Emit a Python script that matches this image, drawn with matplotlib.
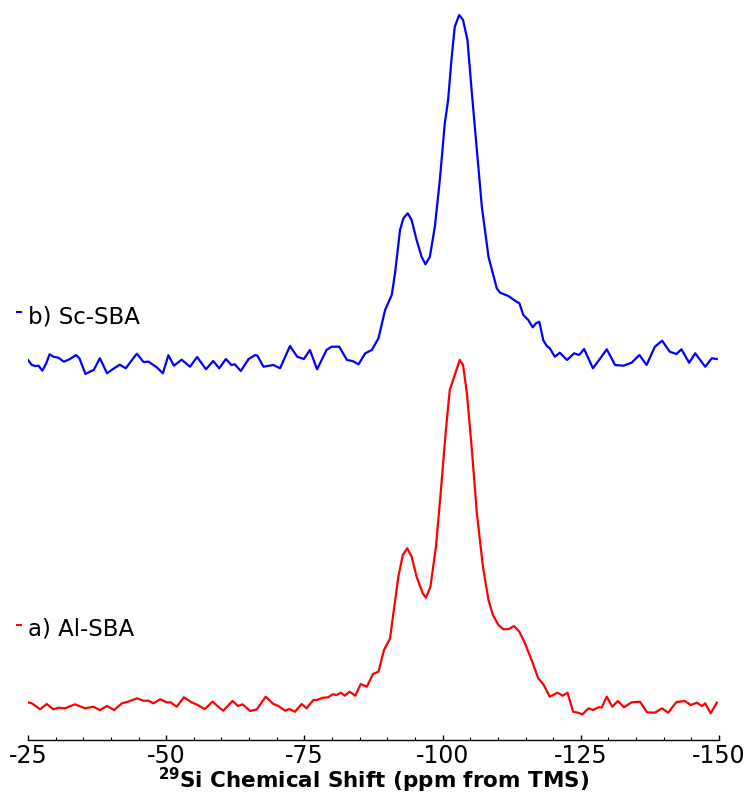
# nmr_29si.py
# 29Si MAS NMR spectra of Al-SBA and Sc-SBA, stacked

import matplotlib
matplotlib.use("Agg")
import matplotlib.pyplot as plt
from matplotlib.lines import Line2D
from matplotlib.ticker import MultipleLocator

plt.rcParams["axes.unicode_minus"] = False

# Sc-SBA (b), chemical shift in ppm and intensity (arb. units)
sc_ppm = [-24.9, -25.7, -26.3, -26.9, -27.6, -28.3, -28.9, -29.6, -30.5, -31.5,
          -32.6, -33.7, -34.3, -35.4, -36.2, -36.9, -38.0, -38.6, -39.3, -40.3,
          -41.6, -42.7, -43.8, -44.7, -45.9, -46.8, -48.3, -49.4, -50.4, -51.4,
          -52.8, -54.3, -55.6, -57.2, -58.5, -59.6, -60.8, -61.8, -62.4, -63.5,
          -64.9, -66.1, -66.5, -67.6, -69.4, -70.6, -72.4, -73.7, -74.9, -76.0,
          -77.3, -79.0, -79.9, -81.3, -82.7, -83.7, -84.8, -86.0, -87.2, -88.4,
          -89.6, -90.8, -91.4, -92.3, -92.9, -93.7, -94.4, -95.3, -96.2, -96.9,
          -97.7, -98.6, -99.5, -100.4, -101.0, -101.6, -102.2, -103.0, -103.7, -104.5,
          -105.3, -106.2, -107.1, -108.3, -109.8, -110.4, -111.9, -113.1, -113.9, -114.6,
          -115.5, -116.3, -116.9, -117.5, -118.2, -118.8, -119.4, -120.3, -121.2, -122.5,
          -123.8, -124.7, -125.6, -127.2, -128.4, -129.7, -131.2, -132.7, -134.2, -135.6,
          -136.9, -138.4, -139.7, -141.1, -142.3, -143.2, -144.6, -145.7, -147.5, -148.7,
          -149.6]
sc_int = [2.7, -3, -4, -3.7, -8.7, -1.3, 7.7, 5.3, 4.3, 0.3,
          3, 7, 3.7, -12, -9.7, -8, 3.7, -3, -11.3, -7.3,
          -2.7, -6.3, 2, 8.3, 0, 0.3, -5.3, -11.3, 6.7, -3.7,
          2.3, -4.7, 5, -7.3, 1, -6.3, 3, -3, -2.3, -9,
          3, 7, 6.3, -4.7, -3, -6.3, 16, 5.3, 3, 12,
          -7.3, 12, 15.3, 15.3, 2, 1, -2.3, 8.7, 12, 23.7,
          52, 67, 88.7, 132, 143.7, 148.7, 142, 122, 105.3, 97.7,
          105.3, 135.3, 182, 238.7, 262, 302, 335.3, 347, 342, 322,
          268.7, 212, 155.3, 105.3, 73.7, 69.3, 66, 61.3, 58.7, 47,
          42, 34.7, 38.7, 40.3, 22, 16.3, 13.7, 5.3, 9.3, 2,
          8.7, 7, 13, -6.3, 2.7, 12.7, -3, -3.7, -0.7, 7,
          -3, 15.3, 21.3, 10.3, 8, 12.7, -0.7, 8.7, -4.7, 3.7,
          3]

# Al-SBA (a)
al_ppm = [-24.9, -25.7, -27.2, -28.4, -29.6, -30.5, -31.7, -33.5, -35.3, -36.8,
          -38.0, -39.3, -40.6, -42.0, -43.1, -44.7, -45.9, -46.8, -47.7, -48.9,
          -50.1, -50.8, -51.9, -53.2, -54.6, -55.8, -57.0, -58.4, -59.4, -60.3,
          -62.0, -63.0, -63.8, -65.2, -66.4, -68.0, -69.4, -70.3, -71.5, -72.3,
          -73.3, -74.5, -75.4, -76.6, -77.2, -78.4, -79.3, -80.1, -80.8, -81.6,
          -82.3, -83.2, -84.2, -85.2, -86.3, -87.4, -88.4, -89.4, -90.5, -91.1,
          -92.0, -92.8, -93.6, -94.4, -95.3, -96.4, -97.0, -97.8, -98.8, -99.7,
          -100.6, -101.3, -102.1, -103.1, -103.7, -104.4, -105.3, -106.2, -107.3, -108.3,
          -109.1, -110.1, -111.0, -112.0, -112.9, -113.9, -114.9, -116.1, -117.3, -118.2,
          -119.4, -120.8, -121.7, -122.6, -123.6, -124.5, -125.3, -126.4, -127.2, -128.2,
          -128.8, -129.7, -130.7, -131.7, -132.8, -134.2, -135.7, -137.0, -138.4, -139.7,
          -140.8, -142.3, -143.8, -144.9, -146.0, -146.9, -147.5, -148.5, -149.6]
al_int = [3.7, 2.7, -3.3, 2, -3.3, -1.7, -2.3, 1.7, -2.3, -0.7,
          -4, 0, -4, 2.7, 4.3, 7.7, 5.3, 5.3, 2.7, 6.7,
          3.7, 3.7, -0.7, 8.7, 3.7, 0.7, -3, 4.5, -0.7, -4.7,
          5, 0, 1.7, -5, -3.3, 9.3, 2, 0, -4.7, -3,
          -5.7, 2, -2.3, 6, 6, 8.3, 8.7, 11.7, 11, 13.3,
          10.3, 14.3, 10.3, 22, 19.3, 32, 34.3, 56, 67.7, 92.7,
          129.3, 151, 157.7, 149.3, 129.3, 112.7, 108.3, 119.3, 159.3, 216,
          276, 316, 329.3, 346, 341, 312.7, 256, 192.7, 139.3, 106,
          91, 81, 76.7, 77, 80, 74.3, 62.7, 46, 27.7, 22,
          9.3, 13.3, 10.3, 13.3, -5.7, -6.7, -8.3, -2.3, -4, -1.3,
          -1.3, 9.3, -0.7, 5, -1.3, 3.7, 4.3, -6.3, -6.7, -2.3,
          -6.7, 4, 5, 1, 3.3, 0, 2.7, -7.3, 3.3]

labels = ["a) Al-SBA", "b) Sc-SBA"]
colors = ["#ff0000", "#0000ff"]
offset = 344  # vertical stacking offset of spectrum b

fig = plt.figure(figsize=(7.46, 7.94), dpi=100)
ax = fig.add_axes([0.0375, 0.068, 0.9263, 0.932])

ax.plot(al_ppm, al_int, color=colors[0], lw=1.6, solid_joinstyle="round")
ax.plot(sc_ppm, [v + offset for v in sc_int], color=colors[1], lw=1.6,
        solid_joinstyle="round")

ax.set_xlim(-25, -150)
ax.set_ylim(-34, 706)

# only the bottom axis is shown
for s in ["top", "left", "right"]:
    ax.spines[s].set_visible(False)
ax.spines["bottom"].set_linewidth(1.0)
ax.set_yticks([])
ax.xaxis.set_major_locator(MultipleLocator(25))
ax.xaxis.set_minor_locator(MultipleLocator(5))
ax.tick_params(axis="x", which="major", direction="in", length=3.5, width=1.0, pad=3)
ax.tick_params(axis="x", which="minor", direction="in", length=2.2, width=0.8)
for t in ax.get_xticklabels():
    t.set_fontsize(17)

ax.set_xlabel(r"$^{\mathbf{29}}$Si Chemical Shift (ppm from TMS)",
              fontsize=15.5, fontweight="bold", va="baseline")
ax.xaxis.set_label_coords(0.5, -0.0655)

# sample labels with small coloured dash, legend style
for lab, col, ytxt in zip(labels, colors, [0.199, 0.593]):
    fig.text(0.0375, ytxt, lab, fontsize=16.5, color="black",
             ha="left", va="baseline")
    fig.add_artist(Line2D([0.0232, 0.0285], [ytxt + 0.014, ytxt + 0.014],
                          color=col, lw=1.5, transform=fig.transFigure))

plt.savefig("out.png", dpi=100)
